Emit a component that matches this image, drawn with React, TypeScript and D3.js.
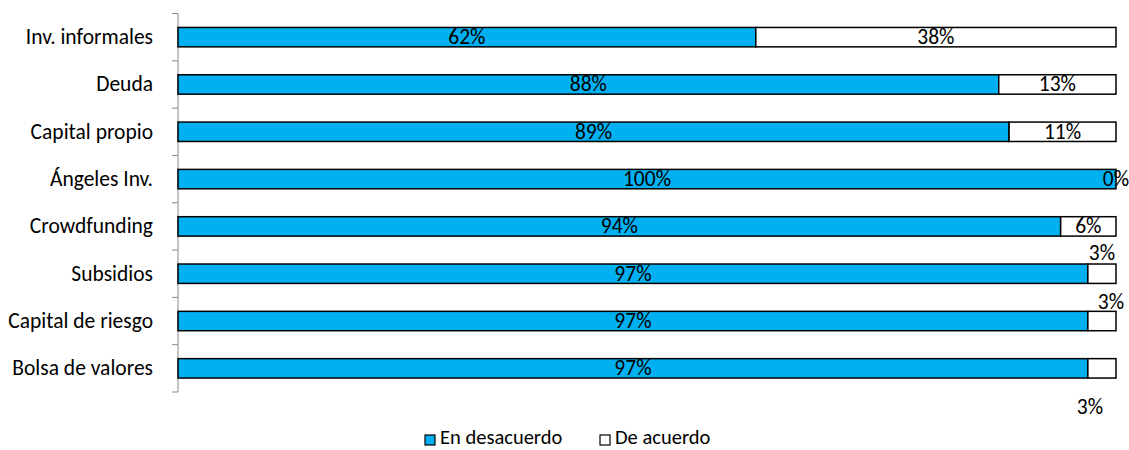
import React from "react";
import * as d3 from "d3";

const categories = [
  "Inv. informales",
  "Deuda",
  "Capital propio",
  "Ángeles Inv.",
  "Crowdfunding",
  "Subsidios",
  "Capital de riesgo",
  "Bolsa de valores",
];
const enDesacuerdo = [61.6, 87.5, 88.6, 100, 94.1, 97, 97, 97];
const deAcuerdo = [38.4, 12.5, 11.4, 0, 5.9, 3, 3, 3];
const seriesNames = ["En desacuerdo", "De acuerdo"];
const seriesColors = ["#00B0F0", "#FFFFFF"];

const W = 1129;
const H = 450;
const FONT = "Carlito, Calibri, sans-serif";
const FS = 21.5;

export default function App() {
  const left = 178;
  const right = 1116;
  const top = 13.5;
  const bottom = 392;

  const x = d3.scaleLinear().domain([0, 1]).range([left, right]);
  const y = d3
    .scaleBand<string>()
    .domain(categories)
    .range([top, bottom])
    .paddingInner(0.59)
    .paddingOuter(0.295);

  const rows = categories.map((c, i) => ({
    cat: c,
    a: enDesacuerdo[i],
    b: deAcuerdo[i],
  }));
  const stack = d3
    .stack<any>()
    .keys(["a", "b"])
    .offset(d3.stackOffsetExpand);
  const stacked = stack(rows);

  const step = (bottom - top) / categories.length;
  const bh = y.bandwidth();

  const smallLabelShift = (cat: string, si: number) => {
    if (si !== 1) return { dx: 0, dy: 0 };
    if (cat === "Subsidios") return { dx: 0, dy: -21 };
    if (cat === "Capital de riesgo") return { dx: 9, dy: -19 };
    if (cat === "Bolsa de valores") return { dx: -12, dy: 39 };
    return { dx: 0, dy: 0 };
  };

  return (
    <svg width={W} height={H} style={{ display: "block", position: "absolute", left: 0, top: 0 }}>
      <rect x={0} y={0} width={W} height={H} fill="#fff" />
      <line x1={left} x2={left} y1={top} y2={bottom} stroke="#888" strokeWidth={1} />
      {d3.range(categories.length + 1).map((i) => (
        <line
          key={i}
          x1={left - 6}
          x2={left}
          y1={top + i * step}
          y2={top + i * step}
          stroke="#888"
          strokeWidth={1}
        />
      ))}
      {categories.map((c) => (
        <text
          key={c}
          x={153}
          y={(y(c) as number) + bh / 2}
          textAnchor="end"
          dominantBaseline="central"
          fontFamily={FONT}
          fontSize={FS}
          fill="#000"
        >
          {c}
        </text>
      ))}
      {stacked.map((s, si) =>
        s.map((d, i) => {
          const x0 = x(d[0]);
          const x1 = x(d[1]);
          return (
            <rect
              key={si + "-" + i}
              x={x0}
              y={y(categories[i])}
              width={Math.max(0, x1 - x0)}
              height={bh}
              fill={seriesColors[si]}
              stroke="#000"
              strokeWidth={1.5}
            />
          );
        })
      )}
      {stacked.map((s, si) =>
        s.map((d, i) => {
          const cat = categories[i];
          const val = si === 0 ? enDesacuerdo[i] : deAcuerdo[i];
          const sh = smallLabelShift(cat, si);
          const cx = (x(d[0]) + x(d[1])) / 2 + sh.dx;
          const cy = (y(cat) as number) + bh / 2 + sh.dy;
          return (
            <text
              key={"l" + si + "-" + i}
              x={cx}
              y={cy}
              textAnchor="middle"
              dominantBaseline="central"
              fontFamily={FONT}
              fontSize={FS}
              fill="#000"
            >
              {Math.round(val) + "%"}
            </text>
          );
        })
      )}
      {seriesNames.map((n, i) => {
        const lx = i === 0 ? 425 : 600;
        return (
          <g key={n}>
            <rect x={lx} y={435} width={10} height={10} fill={seriesColors[i]} stroke="#000" strokeWidth={1.2} />
            <text
              x={lx + 15}
              y={437}
              dominantBaseline="central"
              fontFamily={FONT}
              fontSize={20.5}
              fill="#000"
            >
              {n}
            </text>
          </g>
        );
      })}
    </svg>
  );
}
